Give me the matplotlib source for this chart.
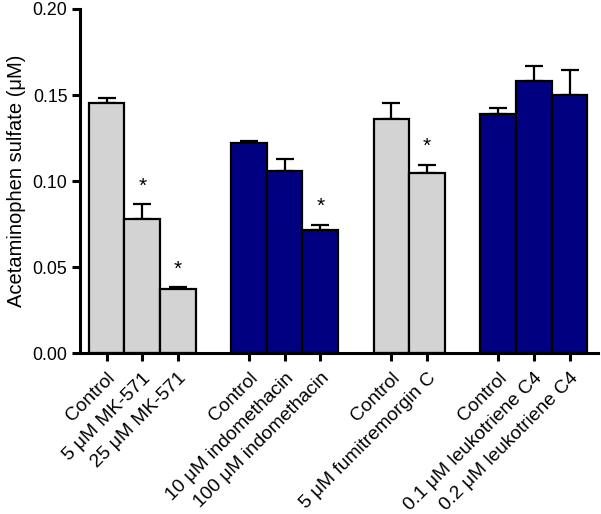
import matplotlib
matplotlib.use("Agg")
import matplotlib.pyplot as plt
import numpy as np

plt.rcParams['font.family'] = ['Liberation Sans', 'DejaVu Sans']

labels = ["Control", "5 μM MK-571", "25 μM MK-571",
          "Control", "10 μM indomethacin", "100 μM indomethacin",
          "Control", "5 μM fumitremorgin C",
          "Control", "0.1 μM leukotriene C4", "0.2 μM leukotriene C4"]
positions = [0, 1, 2, 4, 5, 6, 8, 9, 11, 12, 13]
values = [0.1455, 0.0777, 0.0374, 0.1223, 0.1058, 0.0713, 0.1362, 0.1047, 0.1390, 0.1583, 0.1500]
errors = [0.0030, 0.0089, 0.0008, 0.0010, 0.0070, 0.0033, 0.0091, 0.0048, 0.0032, 0.0086, 0.0143]
colors = ["#D3D3D3"] * 3 + ["#000080"] * 3 + ["#D3D3D3"] * 2 + ["#000080"] * 3
significant = [False, True, True, False, False, True, False, True, False, False, False]

fig = plt.figure(figsize=(6.01, 5.14), dpi=100)
ax = fig.add_axes([0.133, 0.313, 0.862, 0.6695])

ax.bar(positions, values, width=1.0, color=colors, edgecolor="black", linewidth=1.6, zorder=2)
ax.errorbar(positions, values, yerr=[np.zeros(len(errors)), errors], fmt="none",
            ecolor="black", elinewidth=1.6, capsize=6.5, capthick=1.6, zorder=1)

for p, v, e, s in zip(positions, values, errors, significant):
    if s:
        ax.text(p, v + e + 0.0105, "*", ha="center", va="center", fontsize=15)

ax.set_xlim(-0.75, 13.8)
ax.set_ylim(0, 0.20)
ax.set_yticks([0.00, 0.05, 0.10, 0.15, 0.20])
ax.set_yticklabels(["0.00", "0.05", "0.10", "0.15", "0.20"])
ax.set_xticks(positions)
ax.set_xticklabels(labels, rotation=45, ha="right", va="top", rotation_mode="anchor")

for sp in ["top", "right"]:
    ax.spines[sp].set_visible(False)
for sp in ["left", "bottom"]:
    ax.spines[sp].set_linewidth(2.2)

ax.tick_params(axis="both", direction="out", length=6, width=2.2, labelsize=12.8, pad=3)
ax.tick_params(axis="x", pad=6, labelsize=13.8)
ax.set_ylabel("Acetaminophen sulfate (μM)", fontsize=14.5, labelpad=5)

fig.savefig("out.png", dpi=100)
